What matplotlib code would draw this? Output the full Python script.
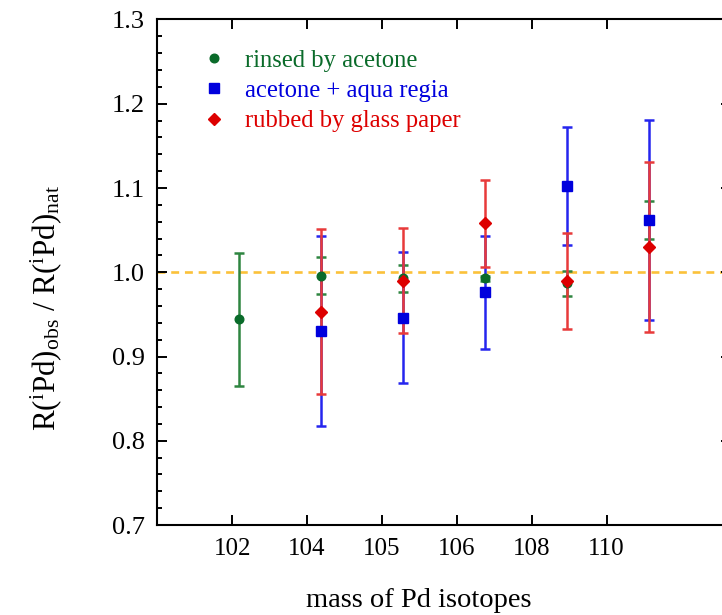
import numpy as np
import matplotlib
matplotlib.use("Agg")
import matplotlib.pyplot as plt
from matplotlib.ticker import MultipleLocator

plt.rcParams['font.family'] = ['Liberation Serif', 'DejaVu Serif']
plt.rcParams['mathtext.fontset'] = 'custom'
plt.rcParams['mathtext.rm'] = 'Liberation Serif'
plt.rcParams['mathtext.it'] = 'Liberation Serif:italic'

# Pd isotopes (category index 1..6)
isotopes = ['102', '104', '105', '106', '108', '110']
pos_all = [1, 2, 3, 4, 5, 6]

# rinsed by acetone
rinsed_val = [0.944, 0.996, 0.993, 0.993, 0.987, 1.062]
rinsed_err = [0.079, 0.022, 0.016, 0.003, 0.015, 0.023]

# acetone + aqua regia (no 102 measurement)
pos_sub = [2, 3, 4, 5, 6]
aqua_val = [0.930, 0.946, 0.976, 1.102, 1.062]
aqua_err = [0.113, 0.078, 0.067, 0.070, 0.119]

# rubbed by glass paper (no 102 measurement)
glass_val = [0.953, 0.990, 1.058, 0.990, 1.030]
glass_err = [0.098, 0.062, 0.052, 0.057, 0.101]

tick_step = 0.913

fig = plt.figure(figsize=(7.22, 6.15), dpi=100)
ax = fig.add_axes([0.2179, 0.1463, 0.795, 0.822])

ax.axhline(1.0, color='#FBC13A', lw=1.9, dashes=(3.0, 2.2), zorder=1)

series = [
    (pos_all, rinsed_val, rinsed_err, 'o', 6.2, '#0a6b2a', '#2e8540', 'rinsed by acetone'),
    (pos_sub, aqua_val, aqua_err, 's', 6.6, '#0000dd', '#2525ee', 'acetone + aqua regia'),
    (pos_sub, glass_val, glass_err, 'D', 6.0, '#dd0000', '#e83a3a', 'rubbed by glass paper'),
]
handles = []
labels = []
for x, y, e, m, ms, mc, ec, lab in series:
    cont = ax.errorbar(x, y, yerr=e, fmt=m, ms=ms, color=mc, mfc=mc, mec=mc,
                       ecolor=ec, elinewidth=1.8, capsize=3.6, capthick=1.8)
    handles.append(cont[0])
    labels.append(lab)

ax.set_xlim(0, 7)
ax.set_ylim(0.7, 1.3)
ax.set_xticks(np.arange(1, 7) * tick_step)
ax.set_xticklabels(isotopes)
ax.yaxis.set_major_locator(MultipleLocator(0.1))
ax.yaxis.set_minor_locator(MultipleLocator(0.02))
ax.set_yticklabels([f'{v:.1f}' for v in ax.get_yticks()])

ax.tick_params(which='both', direction='in', top=True, right=True, width=1.4)
ax.tick_params(axis='x', labelsize=18)
ax.tick_params(axis='y', labelsize=19)
ax.tick_params(which='major', length=7, pad=9)
ax.tick_params(which='minor', length=3.5)
ax.tick_params(axis='x', which='minor', top=False, bottom=False)
for s in ax.spines.values():
    s.set_linewidth(1.5)

ax.set_xlabel('mass of Pd isotopes', fontsize=20.5)
ax.xaxis.set_label_coords(0.456, -0.125)
ax.set_ylabel(r'R($^{\rm i}$Pd)$_{\rm obs}$ / R($^{\rm i}$Pd)$_{\rm nat}$',
              fontsize=22.3)
ax.yaxis.set_label_coords(-0.163, 0.43)

leg = ax.legend(handles, labels, loc='upper left', frameon=False,
                fontsize=17.7, handlelength=0.8, handletextpad=0.85,
                labelspacing=0.33, borderaxespad=0.0,
                bbox_to_anchor=(0.065, 0.96))
for txt, s in zip(leg.get_texts(), series):
    txt.set_color(s[5])

fig.savefig('out.png', dpi=100)
